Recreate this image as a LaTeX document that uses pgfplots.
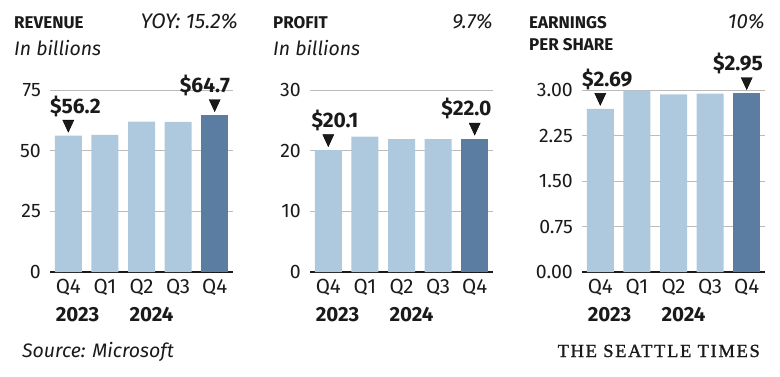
\documentclass[border=0pt]{standalone}
\usepackage{pgfplots}
\pgfplotsset{compat=1.18}
\usepackage{fontspec}
\setmainfont{Fira Sans}
\newfontfamily\stfont[LetterSpace=9, FakeBold=1.2]{Liberation Serif}
\newcommand\yf{\fontsize{19.5}{20}\selectfont}
\definecolor{light}{HTML}{AEC8DE}
\definecolor{dark}{HTML}{5B7DA2}
\definecolor{gridc}{HTML}{BBBBBB}
\definecolor{ink}{HTML}{1A1A1A}
\pgfplotsset{
  panel/.style={
    scale only axis, width=183pt, height=182pt,
    anchor=south west,
    xmin=-0.5, xmax=4.5, ymin=0,
    axis line style={draw=none},
    major tick length=0pt,
    ymajorgrids, grid style={gridc, line width=0.9pt},
    extra y ticks={0}, extra y tick labels={},
    extra y tick style={grid style={ink, line width=1.3pt}},
    xtick={0,1,2,3,4},
    xticklabels={{Q4\\\rlap{\textbf{2023}}},Q1,{Q2\\\rlap{\textbf{2024}}},Q3,Q4},
    xticklabel style={align=left, font=\fontsize{20.5}{28}\selectfont, text=ink, anchor=north, yshift=-3.5pt},
    yticklabel style={text=ink, anchor=east, inner sep=0pt, xshift=-9pt},
    clip=false,
  },
  lb/.style={ybar, bar width=27pt, bar shift=0pt, fill=light, draw=none},
  db/.style={ybar, bar width=27pt, bar shift=0pt, fill=dark, draw=none},
  tri/.style={only marks, mark=triangle*, mark size=8pt,
    mark options={yshift=11.5pt, rotate=180, xscale=0.8, fill=ink, draw=none}},
}
\tikzset{ann/.style={font=\bfseries\fontsize{21}{22}\selectfont, text=ink, inner sep=0pt}}
\begin{document}
\begin{tikzpicture}
\useasboundingbox (0,0) rectangle (780pt,376pt);
% Revenue
\begin{axis}[panel, at={(50pt,104pt)}, ymax=75, ytick={0,25,50,75}, yticklabels={\yf 0,\yf 25,\yf 50,\yf 75}]
\addplot[lb] coordinates {(0,56.2) (1,56.5) (2,62.0) (3,61.9)};
\addplot[db] coordinates {(4,64.7)};
\addplot[tri] coordinates {(0,56.2) (4,64.7)};
\node[ann, anchor=base west] at ([xshift=-18.3pt,yshift=22.6pt]axis cs:0,56.2) {\$56.2};
\node[ann, anchor=base east] at ([xshift=15.5pt,yshift=22.6pt]axis cs:4,64.7) {\$64.7};
\end{axis}
% Profit
\begin{axis}[panel, at={(310pt,104pt)}, ymax=30, ytick={0,10,20,30}, yticklabels={\yf 0,\yf 10,\yf 20,\yf 30}]
\addplot[lb] coordinates {(0,20.1) (1,22.3) (2,21.9) (3,21.9)};
\addplot[db] coordinates {(4,22.0)};
\addplot[tri] coordinates {(0,20.1) (4,22.0)};
\node[ann, anchor=base west] at ([xshift=-17pt,yshift=22.6pt]axis cs:0,20.1) {\$20.1};
\node[ann, anchor=base east] at ([xshift=17pt,yshift=22.6pt]axis cs:4,22.0) {\$22.0};
\end{axis}
% EPS
\begin{axis}[panel, at={(582pt,104pt)}, ymax=3, ytick={0,0.75,1.5,2.25,3},
  yticklabels={\yf 0.00,\yf 0.75,\yf 1.50,\yf 2.25,\yf 3.00}]
\addplot[lb] coordinates {(0,2.69) (1,2.99) (2,2.93) (3,2.94)};
\addplot[db] coordinates {(4,2.95)};
\addplot[tri] coordinates {(0,2.69) (4,2.95)};
\node[ann, anchor=base west] at ([xshift=-18.3pt,yshift=22.6pt]axis cs:0,2.69) {\$2.69};
\node[ann, anchor=base east] at ([xshift=16.5pt,yshift=22.6pt]axis cs:4,2.95) {\$2.95};
\end{axis}
% titles
\begin{scope}[every node/.style={text=ink, inner sep=0pt}]
\node[anchor=base west, font=\bfseries\fontsize{17}{20}\selectfont] at (14pt,348pt) {REVENUE};
\node[anchor=base east, font=\itshape\fontsize{21}{20}\selectfont] at (238pt,348pt) {YOY: 15.2\%};
\node[anchor=base west, font=\itshape\fontsize{19.5}{20}\selectfont] at (14pt,321pt) {In billions};
\node[anchor=base west, font=\bfseries\fontsize{17}{20}\selectfont] at (273pt,348pt) {PROFIT};
\node[anchor=base east, font=\itshape\fontsize{20.5}{20}\selectfont] at (493pt,348pt) {9.7\%};
\node[anchor=base west, font=\itshape\fontsize{19.5}{20}\selectfont] at (273pt,321pt) {In billions};
\node[anchor=base west, font=\bfseries\fontsize{17}{20}\selectfont] at (529pt,348pt) {EARNINGS};
\node[anchor=base west, font=\bfseries\fontsize{17}{20}\selectfont] at (529pt,326pt) {PER SHARE};
\node[anchor=base east, font=\itshape\fontsize{20.5}{20}\selectfont] at (765pt,348pt) {10\%};
\node[anchor=base west, font=\itshape\fontsize{19.5}{20}\selectfont] at (22pt,19pt) {Source: Microsoft};
\node[anchor=base east, font=\stfont\fontsize{18.5}{20}\selectfont] at (760pt,19pt) {THE SEATTLE TIMES};
\end{scope}
\end{tikzpicture}
\end{document}
